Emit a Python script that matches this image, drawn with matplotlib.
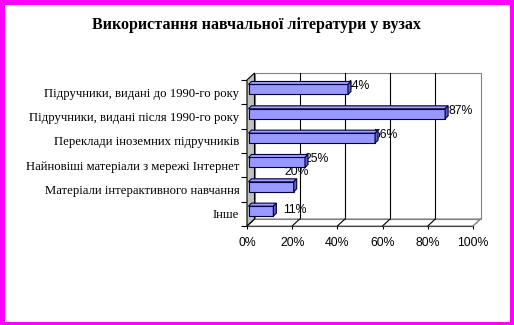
import matplotlib
matplotlib.use("Agg")
import matplotlib.pyplot as plt
import numpy as np
from matplotlib.patches import Polygon, Rectangle
from matplotlib.transforms import IdentityTransform

# ---- data ----
title = "Використання навчальної літератури у вузах"
categories = [
    "Підручники, видані до 1990-го року",
    "Підручники, видані після 1990-го року",
    "Переклади іноземних підручників",
    "Найновіші матеріали з мережі Інтернет",
    "Матеріали інтерактивного навчання",
    "Інше",
]
values = [44, 87, 56, 25, 20, 11]
value_labels = ["44%", "87%", "56%", "25%", "20%", "11%"]
xticks = [0, 20, 40, 60, 80, 100]
xtick_labels = ["0%", "20%", "40%", "60%", "80%", "100%"]

W, H = 514, 325
fig = plt.figure(figsize=(W / 100, H / 100), dpi=100)
fig.patch.set_facecolor("white")

# magenta frame
mag = "#FF00FF"
for r in [(0, 0, 5 / W, 1), (1 - 4 / W, 0, 4 / W, 1), (0, 1 - 5 / H, 1, 5 / H), (0, 0, 1, 3 / H)]:
    fig.patches.append(Rectangle(r[:2], r[2], r[3], transform=fig.transFigure,
                                 facecolor=mag, edgecolor="none", zorder=10))

fig.text(256 / W, 1 - 25 / H, title, ha="center", va="center",
         fontsize=11.5, fontweight="bold", family="Liberation Serif")

# front plane axes
ax = fig.add_axes([247 / W, (H - 226) / H, 226 / W, 146 / H])
n = len(categories)
ax.set_xlim(0, 100)
ax.set_ylim(0, n)
ax.patch.set_visible(False)
for s in ["top", "right"]:
    ax.spines[s].set_visible(False)
ax.spines["left"].set_zorder(6)
ax.spines["bottom"].set_zorder(6)
ax.spines["left"].set_linewidth(0.8)
ax.spines["bottom"].set_linewidth(0.8)

tick_font = dict(family="Liberation Sans", fontsize=8.8)
ax.set_xticks(xticks)
ax.set_xticklabels(xtick_labels, **tick_font)
ax.tick_params(axis="x", direction="out", length=2.5, width=0.8, pad=5.5)
ax.set_yticks(np.arange(n + 1))
ax.set_yticklabels([])
ax.tick_params(axis="y", which="major", direction="out", length=4.5, width=0.8)
centers = [n - i - 0.5 for i in range(n)]
ax.set_yticks(centers, minor=True)
ax.set_yticklabels(categories, minor=True, family="Liberation Serif", fontsize=9.2)
ax.tick_params(axis="y", which="minor", length=0, pad=5.5)

DX, DY = 7.5, 7.0  # wall depth offset in pixels


def P(x, y, d=0.0, dx=DX, dy=DY, ox=0.0, oy=0.0):
    px, py = ax.transData.transform((x, y))
    return (px + d * dx + ox, py + d * dy + oy)


def poly(pts, fc, ec, lw=0.8, z=1):
    p = Polygon(pts, closed=True, facecolor=fc, edgecolor=ec, linewidth=lw,
                transform=IdentityTransform(), zorder=z, joinstyle="miter")
    fig.patches.append(p)


# back wall
poly([P(0, 0, 1), P(100, 0, 1), P(100, n, 1), P(0, n, 1)], "white", "#808080", z=1)
# gridlines on back wall and floor
for xt in xticks[1:-1]:
    a, b = P(xt, 0, 1), P(xt, n, 1)
    fig.lines.append(plt.Line2D([a[0], b[0]], [a[1], b[1]], color="black", lw=0.8,
                                transform=IdentityTransform(), zorder=2))
for xt in xticks:
    a, b = P(xt, 0, 0), P(xt, 0, 1)
    fig.lines.append(plt.Line2D([a[0], b[0]], [a[1], b[1]],
                                color="black" if xt < 100 else "#808080", lw=0.8,
                                transform=IdentityTransform(), zorder=3))
# floor
poly([P(0, 0, 0), P(100, 0, 0), P(100, 0, 1), P(0, 0, 1)], "none", "#808080", z=2)
# left wall
poly([P(0, 0, 0), P(0, n, 0), P(0, n, 1), P(0, 0, 1)], "#C0C0C0", "black", z=4)

# bars
bh = 0.41
front_fc, top_fc, side_fc, edge = "#9999FF", "#A0A0FF", "#6060C0", "#000040"
bdx, bdy = 3.0, 3.0
bo = (1.5, 2.7)
for i, v in enumerate(values):
    yc = centers[i]
    y0, y1 = yc - bh / 2, yc + bh / 2
    f = lambda x, y, d=0: P(x, y, d, dx=bdx, dy=bdy, ox=bo[0], oy=bo[1])
    poly([f(0, y0), f(v, y0), f(v, y1), f(0, y1)], front_fc, edge, z=8)
    poly([f(0, y1), f(v, y1), f(v, y1, 1), f(0, y1, 1)], top_fc, edge, z=8)
    poly([f(v, y0), f(v, y0, 1), f(v, y1, 1), f(v, y1)], side_fc, edge, z=8)

# value labels (pixel offsets from bar end)
label_offsets = [(-2, 3), (3, 3), (-2, 3), (-1, 3), (3, 15), (10, 1)]
for i, (v, lab) in enumerate(zip(values, value_labels)):
    ox, oy = label_offsets[i]
    x, y = P(v, centers[i], 0, ox=bo[0] + ox, oy=bo[1] + oy)
    ha = "center" if i == 4 else "left"
    fig.text(x / W, y / H, lab, ha=ha, va="center", zorder=7, **tick_font)

fig.savefig("out.png", dpi=100, facecolor="white")
